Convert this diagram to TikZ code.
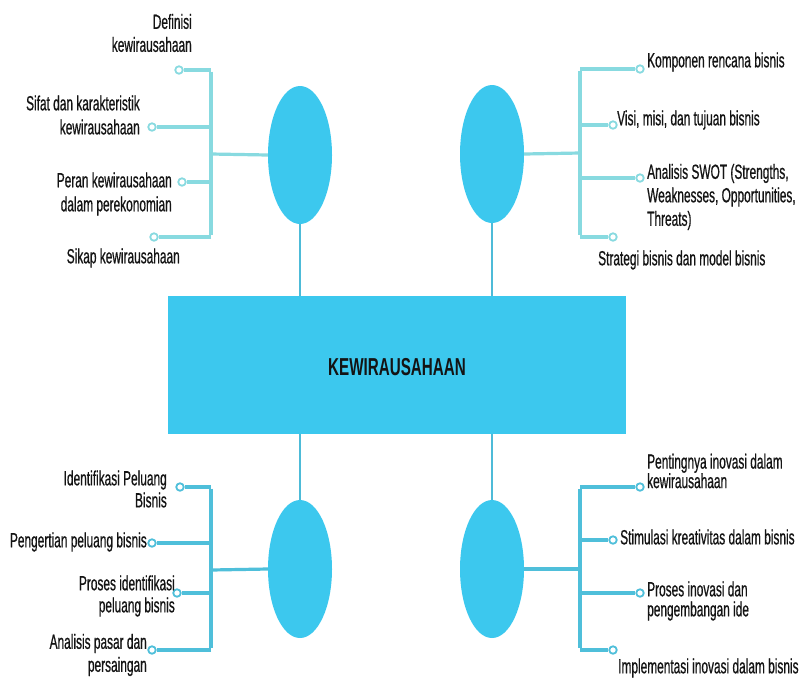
\documentclass[tikz,border=0pt]{standalone}
\usepackage{fontspec}
\setmainfont{Liberation Sans}[FakeStretch=0.58,FakeBold=0.6]
\newfontfamily\titlefont{Liberation Sans}[FakeStretch=0.62]
\usetikzlibrary{shapes.geometric}
\definecolor{hubfill}{HTML}{3CC8EE}
\definecolor{toplines}{HTML}{88DAE0}
\definecolor{botlines}{HTML}{4FBFDA}
\definecolor{vline}{HTML}{4DBBD8}
\definecolor{txt}{HTML}{141414}
\tikzset{
  hub/.style={ellipse, fill=hubfill, minimum width=64pt, minimum height=138pt, inner sep=0pt},
  mainbox/.style={rectangle, fill=hubfill, minimum width=458pt, minimum height=138pt, inner sep=0pt},
  tline/.style={draw=toplines, line width=3.2pt},
  bline/.style={draw=botlines, line width=3.2pt},
  stem/.style={draw=vline, line width=2.4pt},
  tdot/.style={circle, draw=toplines, fill=white, line width=1.8pt, minimum size=7.5pt, inner sep=0pt},
  bdot/.style={circle, draw=botlines, fill=white, line width=1.8pt, minimum size=7.5pt, inner sep=0pt},
  ltxt/.style={anchor=east, align=right, inner sep=0pt, text=txt},
  rtxt/.style={anchor=west, align=left, inner sep=0pt, text=txt},
}
\begin{document}
\begin{tikzpicture}[x=1pt,y=-1pt]
\useasboundingbox (0,0) rectangle (802,681);
\fill[white] (0,0) rectangle (802,681);

% central box
\node[mainbox] (box) at (397,365) {};
\node[text=txt, inner sep=0pt] (title) at (397,367) {\titlefont\fontsize{24.5}{24}\selectfont\bfseries KEWIRAUSAHAAN};

% hubs
\node[hub] (tl) at (300,155) {};
\node[hub] (tr) at (492,154) {};
\node[hub] (bl) at (300,569) {};
\node[hub] (br) at (492,569) {};

% stems
\draw[stem] (tl.south) -- (tl.south |- box.north);
\draw[stem] (tr.south) -- (tr.south |- box.north);
\draw[stem] (box.south -| bl.north) -- (bl.north);
\draw[stem] (box.south -| br.north) -- (br.north);

% ---------- top-left ----------
\coordinate (tlj) at (211,154);
\coordinate (tlb1) at (211,70);
\coordinate (tlb2) at (211,127);
\coordinate (tlb3) at (211,182);
\coordinate (tlb4) at (211,237);
\node[tdot] (tld1) at (179,70) {};
\node[tdot] (tld2) at (152,127) {};
\node[tdot] (tld3) at (182,182) {};
\node[tdot] (tld4) at (154,237) {};
\draw[tline] (tl.west) -- (tlj);
\draw[tline] ([yshift=-1.6pt]tlb1) -- ([yshift=1.6pt]tlb4);
\draw[tline] (tlb1) -- (tld1);
\draw[tline] (tlb2) -- (tld2);
\draw[tline] (tlb3) -- (tld3);
\draw[tline] (tlb4) -- (tld4);

\node[ltxt, font=\fontsize{20.5}{23}\selectfont] (tlt1) at (192,33) {Definisi\\kewirausahaan};
\node[ltxt, font=\fontsize{20.5}{24}\selectfont] (tlt2) at (140,115) {Sifat dan karakteristik\\kewirausahaan};
\node[ltxt, font=\fontsize{20.5}{24}\selectfont] (tlt3) at (172,194) {Peran kewirausahaan\\dalam perekonomian};
\node[ltxt, font=\fontsize{20.5}{23}\selectfont] (tlt4) at (180,258) {Sikap kewirausahaan};

% ---------- top-right ----------
\coordinate (trj) at (580,153);
\coordinate (trb1) at (580,69);
\coordinate (trb2) at (580,125);
\coordinate (trb3) at (580,178);
\coordinate (trb4) at (580,237);
\node[tdot] (trd1) at (640,69) {};
\node[tdot] (trd2) at (613,125) {};
\node[tdot] (trd3) at (640,178) {};
\node[tdot] (trd4) at (613,237) {};
\draw[tline] (tr.east) -- (trj);
\draw[tline] ([yshift=-1.6pt]trb1) -- ([yshift=1.6pt]trb4);
\draw[tline] (trb1) -- (trd1);
\draw[tline] (trb2) -- (trd2);
\draw[tline] (trb3) -- (trd3);
\draw[tline] (trb4) -- (trd4);

\node[rtxt, font=\fontsize{20.5}{23}\selectfont] (trt1) at (647,62) {Komponen rencana bisnis};
\node[rtxt, font=\fontsize{20.5}{23}\selectfont] (trt2) at (617,120) {Visi, misi, dan tujuan bisnis};
\node[rtxt, font=\fontsize{20.5}{23.5}\selectfont] (trt3) at (647,197) {Analisis SWOT (Strengths,\\Weaknesses, Opportunities,\\Threats)};
\node[rtxt, font=\fontsize{20.5}{23}\selectfont] (trt4) at (598,260) {Strategi bisnis dan model bisnis};

% ---------- bottom-left ----------
\coordinate (blj) at (211,570);
\coordinate (blb1) at (211,487);
\coordinate (blb2) at (211,543);
\coordinate (blb3) at (211,593);
\coordinate (blb4) at (211,650);
\node[bdot] (bld1) at (180,487) {};
\node[bdot] (bld2) at (152,543) {};
\node[bdot] (bld3) at (177,593) {};
\node[bdot] (bld4) at (152,650) {};
\draw[bline] (bl.west) -- (blj);
\draw[bline] ([yshift=-1.6pt]blb1) -- ([yshift=1.6pt]blb4);
\draw[bline] (blb1) -- (bld1);
\draw[bline] (blb2) -- (bld2);
\draw[bline] (blb3) -- (bld3);
\draw[bline] (blb4) -- (bld4);

\node[ltxt, font=\fontsize{20.5}{22}\selectfont] (blt1) at (167,489) {Identifikasi Peluang\\Bisnis};
\node[ltxt, font=\fontsize{20.5}{22}\selectfont] (blt2) at (147,542) {Pengertian peluang bisnis};
\node[ltxt, font=\fontsize{20.5}{22}\selectfont] (blt3) at (175,596) {Proses identifikasi\\peluang bisnis};
\node[ltxt, font=\fontsize{20.5}{23}\selectfont] (blt4) at (147,655) {Analisis pasar dan\\persaingan};

% ---------- bottom-right ----------
\coordinate (brj) at (580,569);
\coordinate (brb1) at (580,487);
\coordinate (brb2) at (580,540);
\coordinate (brb3) at (580,593);
\coordinate (brb4) at (580,650);
\node[bdot] (brd1) at (640,487) {};
\node[bdot] (brd2) at (613,540) {};
\node[bdot] (brd3) at (640,593) {};
\node[bdot] (brd4) at (613,650) {};
\draw[bline] (br.east) -- (brj);
\draw[bline] ([yshift=-1.6pt]brb1) -- ([yshift=1.6pt]brb4);
\draw[bline] (brb1) -- (brd1);
\draw[bline] (brb2) -- (brd2);
\draw[bline] (brb3) -- (brd3);
\draw[bline] (brb4) -- (brd4);

\node[rtxt, font=\fontsize{20.5}{19.5}\selectfont] (brt1) at (647,471) {Pentingnya inovasi dalam\\kewirausahaan};
\node[rtxt, font=\fontsize{20.5}{22}\selectfont] (brt2) at (620,537) {Stimulasi kreativitas dalam bisnis};
\node[rtxt, font=\fontsize{20.5}{20}\selectfont] (brt3) at (647,601) {Proses inovasi dan\\pengembangan ide};
\node[rtxt, font=\fontsize{20.5}{22}\selectfont] (brt4) at (618,668) {Implementasi inovasi dalam bisnis};
\end{tikzpicture}
\end{document}
